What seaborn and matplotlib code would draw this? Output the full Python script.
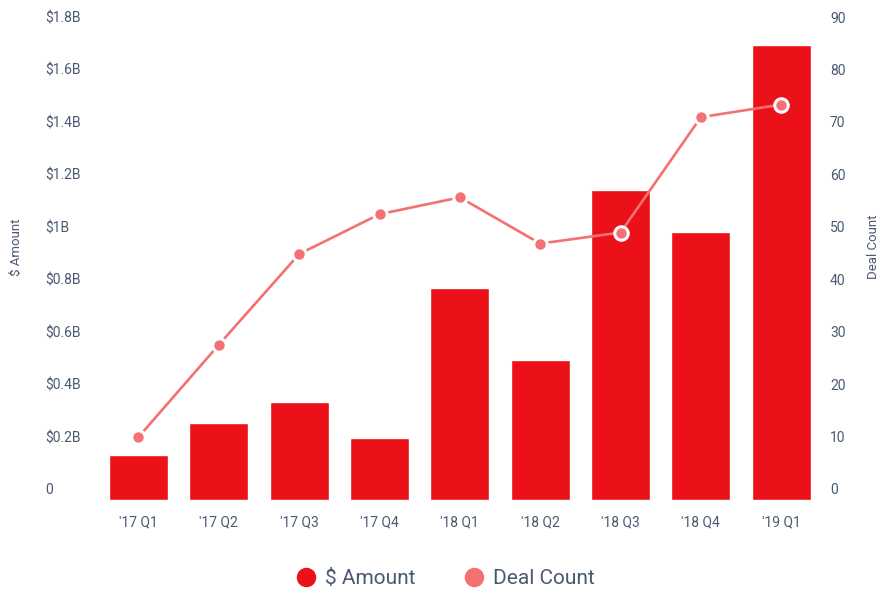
import numpy as np
import pandas as pd
import matplotlib
matplotlib.use("Agg")
import matplotlib.pyplot as plt
import matplotlib.transforms as mtransforms
from matplotlib.lines import Line2D
import seaborn as sns

quarters = ["'17 Q1", "'17 Q2", "'17 Q3", "'17 Q4", "'18 Q1", "'18 Q2", "'18 Q3", "'18 Q4", "'19 Q1"]
amount_b = [0.172, 0.294, 0.374, 0.236, 0.809, 0.534, 1.182, 1.022, 1.735]
deal_count = [12.0, 29.6, 46.9, 54.5, 57.7, 48.9, 51.0, 73.0, 75.4]
left_ticks = [0, 0.2, 0.4, 0.6, 0.8, 1.0, 1.2, 1.4, 1.6, 1.8]
left_labels = ["0", "$0.2B", "$0.4B", "$0.6B", "$0.8B", "$1B", "$1.2B", "$1.4B", "$1.6B", "$1.8B"]
right_ticks = [0, 10, 20, 30, 40, 50, 60, 70, 80, 90]

BAR = "#EC1118"
LINE = "#F37073"
TXT = "#4A5970"

sns.set_theme(style="white")
plt.rcParams["font.family"] = ["Roboto", "DejaVu Sans"]

df = pd.DataFrame({"quarter": quarters, "amount": amount_b, "deals": deal_count,
                   "pos": np.arange(len(quarters))})

fig = plt.figure(figsize=(8.85, 5.91), dpi=100)
ax = fig.add_axes([0.1111, 0.154, 0.817, 0.7986])
sns.barplot(data=df, x="quarter", y="amount", color=BAR, saturation=1, width=0.735, ax=ax)
ax.set_xlim(-0.5, len(quarters) - 0.5)
ax.set_ylim(0, 1.8)

ax2 = ax.twinx()
sns.lineplot(data=df, x="pos", y="deals", color=LINE, linewidth=1.9, marker="o",
             markersize=9.7, markerfacecolor=LINE, markeredgecolor="white",
             markeredgewidth=2.2, ax=ax2, zorder=5)
ax2.set_ylim(0, 90)
ax2.set_xlim(-0.5, len(quarters) - 0.5)

for a in (ax, ax2):
    for s in a.spines.values():
        s.set_visible(False)
    a.grid(False)

ax.set_yticks(left_ticks)
ax.set_yticklabels(left_labels)
ax.tick_params(axis="y", length=0, pad=38.4, labelsize=10, labelcolor=TXT)
ax.tick_params(axis="x", length=0, pad=11, labelsize=10, labelcolor=TXT)
ax2.set_yticks(right_ticks)
ax2.set_yticklabels([str(t) for t in right_ticks])
ax2.tick_params(axis="y", length=0, pad=6.2, labelsize=10, labelcolor=TXT)

shift = mtransforms.ScaledTranslation(0, 11 / 100, fig.dpi_scale_trans)
for lab in ax.get_yticklabels():
    lab.set_horizontalalignment("left")
    lab.set_transform(lab.get_transform() + shift)
for lab in ax2.get_yticklabels():
    lab.set_horizontalalignment("left")
    lab.set_transform(lab.get_transform() + shift)

ax_w = 0.817 * 885
ax.set_xlabel("")
ax.set_ylabel("$ Amount", fontsize=9.5, color=TXT, va="center")
ax.yaxis.set_label_coords((16 - 98.3) / ax_w, 0.536)
ax2.set_xlabel("")
ax2.set_ylabel("Deal Count", fontsize=9.5, color=TXT, va="center")
ax2.yaxis.set_label_coords((873 - 98.3) / ax_w, 0.536)

handles = [
    Line2D([], [], marker="o", linestyle="", color=BAR, markersize=13),
    Line2D([], [], marker="o", linestyle="", color=LINE, markersize=13),
]
leg = fig.legend(handles, ["$ Amount", "Deal Count"], loc="center",
                 bbox_to_anchor=(0.503, 1 - 579 / 591), ncol=2, frameon=False,
                 fontsize=15, handletextpad=0.4, columnspacing=2.3,
                 handlelength=1.0, labelcolor=TXT)

fig.savefig("out.png", dpi=100)
